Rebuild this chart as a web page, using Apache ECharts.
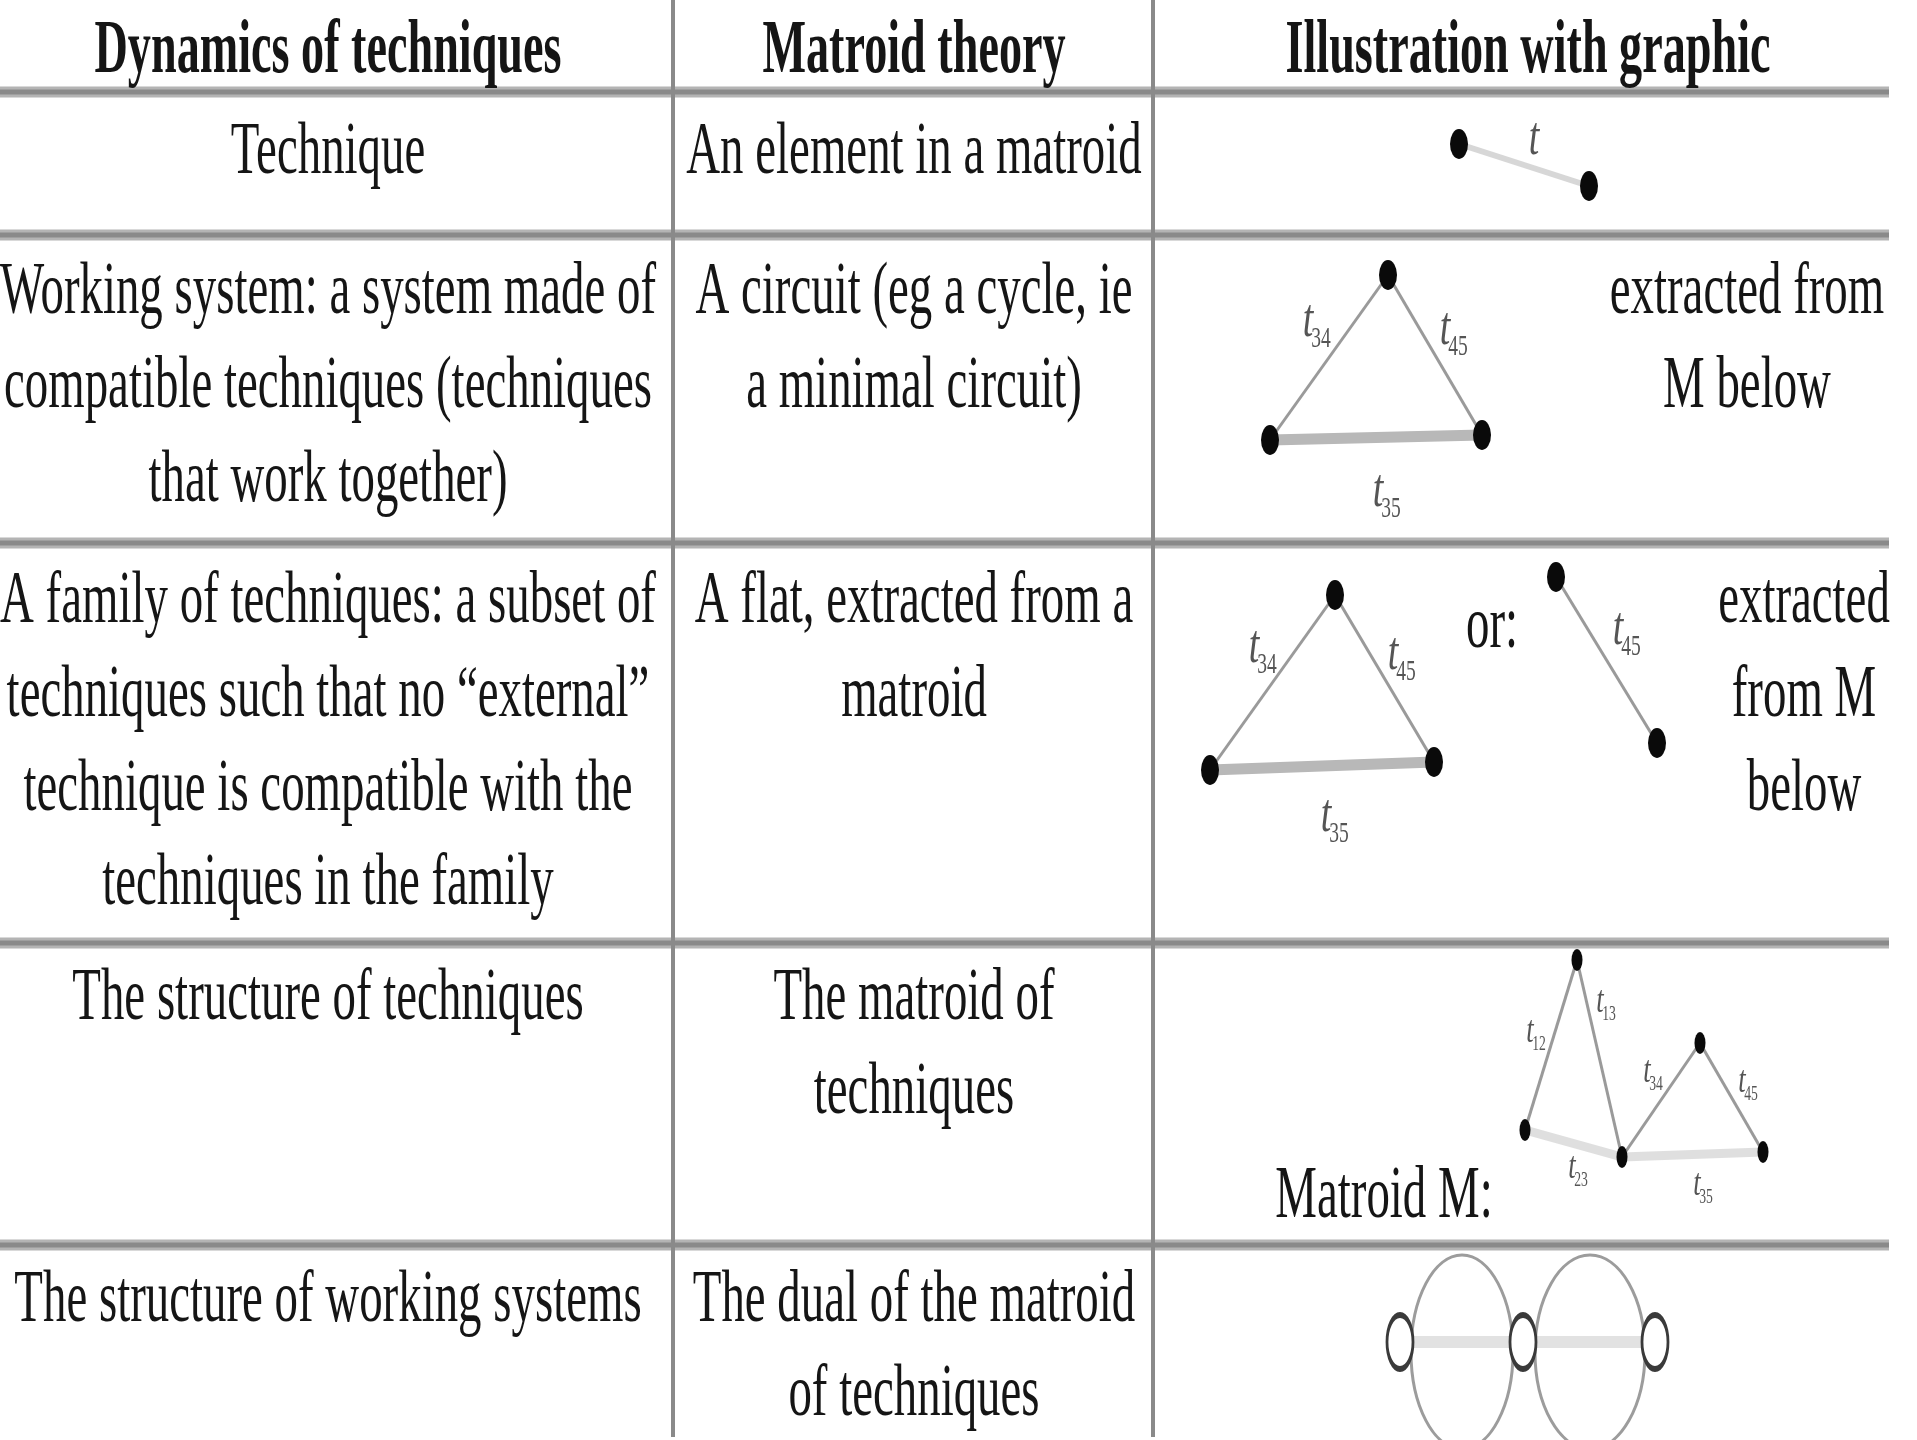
<!DOCTYPE html>
<html><head><meta charset="utf-8">
<script src="https://cdn.jsdelivr.net/npm/echarts@6/dist/echarts.min.js"></script>
<style>html,body{margin:0;padding:0;background:#fff}#c{width:1917px;height:1440px}</style>
</head><body><div id="c"></div><script>
// ---------- DATA (reference frame: pixels of the 1917x1440 picture) ----------
const headers = ['Dynamics of techniques', 'Matroid theory', 'Illustration with graphic'];
const dynamicsCells = [
  ['Technique'],
  ['Working system: a system made of', 'compatible techniques (techniques', 'that work together)'],
  ['A family of techniques: a subset of', 'techniques such that no \u201cexternal\u201d', 'technique is compatible with the', 'techniques in the family'],
  ['The structure of techniques'],
  ['The structure of working systems']
];
const matroidCells = [
  ['An element in a matroid'],
  ['A circuit (eg a cycle, ie', 'a minimal circuit)'],
  ['A flat, extracted from a', 'matroid'],
  ['The matroid of', 'techniques'],
  ['The dual of the matroid', 'of techniques']
];
const illustrationNotes = [[], ['extracted from', 'M below'], ['extracted', 'from M', 'below'], [], []];
const orText = 'or:';
const matroidMText = 'Matroid M:';

const elementNodes = [[1459, 144], [1589, 186]];
const elementLinks = [[0, 1]];
const circuitNodes = [[1388, 275], [1270, 440], [1482, 435]];
const circuitLinks = [[0, 1], [0, 2], [1, 2]];
const flatNodes = [[1335, 595], [1210, 770], [1434, 762], [1556, 577], [1657, 743]];
const flatLinks = [[0, 1], [0, 2], [1, 2], [3, 4]];
const matroidNodes = [[1577, 960], [1525, 1130], [1622, 1157], [1700, 1043], [1763, 1152]];
const matroidLinks = [[0, 1], [0, 2], [1, 2], [2, 3], [3, 4], [2, 4]];
const dualNodes = [[1400, 1342], [1523, 1342], [1655, 1342]];
const dualLinks = [[0, 1], [1, 2]];
const dualLoops = [[1462, 1352, 51, 97], [1590, 1352, 55, 97]];

const bigLabelPos = [[1534, 140], [1308, 322], [1445, 330], [1378, 492], [1254, 648], [1393, 655], [1326, 817], [1618, 630]];
const bigLabelSubs = ['', '34', '45', '35', '34', '45', '35', '45'];
const smallLabelPos = [[1530, 1032], [1600, 1002], [1647, 1072], [1742, 1082], [1572, 1168], [1697, 1185]];
const smallLabelSubs = ['12', '13', '34', '45', '23', '35'];

// ---------- LAYOUT ----------
const W = 1917, H = 1440;
const hLines = [92, 235, 543, 943, 1245];
const vLines = [673, 1153];
const lineRight = 1889, lineBottom = 1437;
const colCenter = [328, 914];
const noteCenter = [0, 1747, 1804, 0, 0];
const headerCenters = [328, 914, 1528];
const headerY = 52;
const rowFirstY = [154, 294, 603, 1000, 1302];
const lineGap = 94;
const FONT = '"Liberation Serif", "Times New Roman", serif';
const bodySize = 74, headSize = 76;

const cv = document.createElement('canvas').getContext('2d');
function measure(t, size, weight) { cv.font = (weight || 'normal') + ' ' + size + 'px ' + FONT; return cv.measureText(t).width; }
const sBody = 648 / measure('compatible techniques (techniques', bodySize);
const sHead = 467 / measure('Dynamics of techniques', headSize, 'bold');

const graphic = [];
function txt(t, x, y, opts) {
  opts = opts || {};
  graphic.push({
    type: 'text', x: x, y: y, scaleX: opts.bold ? sHead : sBody, z: 10,
    style: {
      text: t, fill: '#151515', fontFamily: FONT, fontSize: opts.bold ? headSize : bodySize,
      fontWeight: opts.bold ? 'bold' : 'normal', align: 'center', verticalAlign: 'middle'
    }
  });
}
headers.forEach((h, i) => txt(h, headerCenters[i], headerY, { bold: true }));
dynamicsCells.forEach((cell, r) => cell.forEach((t, k) => txt(t, colCenter[0], rowFirstY[r] + k * lineGap)));
matroidCells.forEach((cell, r) => cell.forEach((t, k) => txt(t, colCenter[1], rowFirstY[r] + k * lineGap)));
illustrationNotes.forEach((cell, r) => cell.forEach((t, k) => txt(t, noteCenter[r], rowFirstY[r] + k * lineGap)));
txt(orText, 1492, 628);
txt(matroidMText, 1384, 1198);

hLines.forEach(y => {
  graphic.push({ type: 'line', shape: { x1: 0, y1: y, x2: lineRight, y2: y }, style: { stroke: '#b4b4b4', lineWidth: 11 }, z: 1 });
  graphic.push({ type: 'line', shape: { x1: 0, y1: y, x2: lineRight, y2: y }, style: { stroke: '#8a8a8a', lineWidth: 5 }, z: 1 });
});
vLines.forEach(x => {
  graphic.push({ type: 'line', shape: { x1: x, y1: 0, x2: x, y2: lineBottom }, style: { stroke: '#8a8a8a', lineWidth: 4 }, z: 2 });
});

const thin = { color: '#9a9a9a', width: 3, opacity: 1, curveness: 0 };
const thick = { color: '#b8b8b8', width: 11, opacity: 1, curveness: 0 };
function graphSeries(nodes, links, heavyIdx, size, itemStyle, lineStyleThick) {
  return {
    type: 'graph', layout: 'none', coordinateSystem: 'cartesian2d', xAxisIndex: 0, yAxisIndex: 0,
    symbol: 'circle', symbolSize: size, z: 5, silent: true, animation: false,
    itemStyle: itemStyle,
    data: nodes.map(n => ({ value: n })),
    links: links.map((l, i) => ({ source: l[0], target: l[1], lineStyle: heavyIdx.indexOf(i) >= 0 ? (lineStyleThick || thick) : thin })),
    label: { show: false }, emphasis: { disabled: true }
  };
}
const blackNode = { color: '#0a0a0a' };
function labelSeries(pos, subs, tSize, sSize, dx, dy) {
  return {
    type: 'custom', coordinateSystem: 'cartesian2d', silent: true, z: 6, animation: false,
    data: pos,
    renderItem: function (params, api) {
      const p = api.coord([api.value(0), api.value(1)]);
      const sub = subs[params.dataIndex];
      const base = { fontFamily: FONT, fill: '#555555', align: 'center', verticalAlign: 'middle' };
      const ch = [{ type: 'text', x: p[0], y: p[1], scaleX: 0.7, style: Object.assign({ text: 't', fontSize: tSize, fontStyle: 'italic' }, base) }];
      if (sub) ch.push({ type: 'text', x: p[0] + dx, y: p[1] + dy, scaleX: 0.65, style: Object.assign({ text: sub, fontSize: sSize }, base) });
      return { type: 'group', children: ch };
    }
  };
}

const option = {
  animation: false,
  backgroundColor: '#ffffff',
  grid: { left: 0, right: 0, top: 0, bottom: 0 },
  xAxis: { type: 'value', min: 0, max: W, show: false },
  yAxis: { type: 'value', min: 0, max: H, inverse: true, show: false },
  graphic: graphic,
  series: [
    {
      type: 'custom', coordinateSystem: 'cartesian2d', silent: true, z: 4, data: dualLoops, clip: false,
      renderItem: function (params, api) {
        const c = api.coord([api.value(0), api.value(1)]);
        const s = api.size([api.value(2), api.value(3)]);
        return { type: 'ellipse', shape: { cx: c[0], cy: c[1], rx: s[0], ry: s[1] }, style: { fill: 'none', stroke: '#9c9c9c', lineWidth: 3 } };
      }
    },
    graphSeries(elementNodes, elementLinks, [0], [18, 30], blackNode, { color: '#b0b0b0', width: 6, curveness: 0 }),
    graphSeries(circuitNodes, circuitLinks, [2], [18, 30], blackNode),
    graphSeries(flatNodes, flatLinks, [2], [18, 30], blackNode),
    graphSeries(matroidNodes, matroidLinks, [2, 5], [11, 22], blackNode, { color: '#c0c0c0', width: 9, curveness: 0 }),
    graphSeries(dualNodes, dualLinks, [0, 1], [26, 54], { color: '#ffffff', borderColor: '#3a3a3a', borderWidth: 4 }, { color: '#c6c6c6', width: 12, curveness: 0 }),
    labelSeries(bigLabelPos, bigLabelSubs, 54, 30, 13, 17),
    labelSeries(smallLabelPos, smallLabelSubs, 38, 21, 9, 12)
  ]
};
const chart = echarts.init(document.getElementById('c'), null, { renderer: 'canvas' });
chart.setOption(option);
</script></body></html>
